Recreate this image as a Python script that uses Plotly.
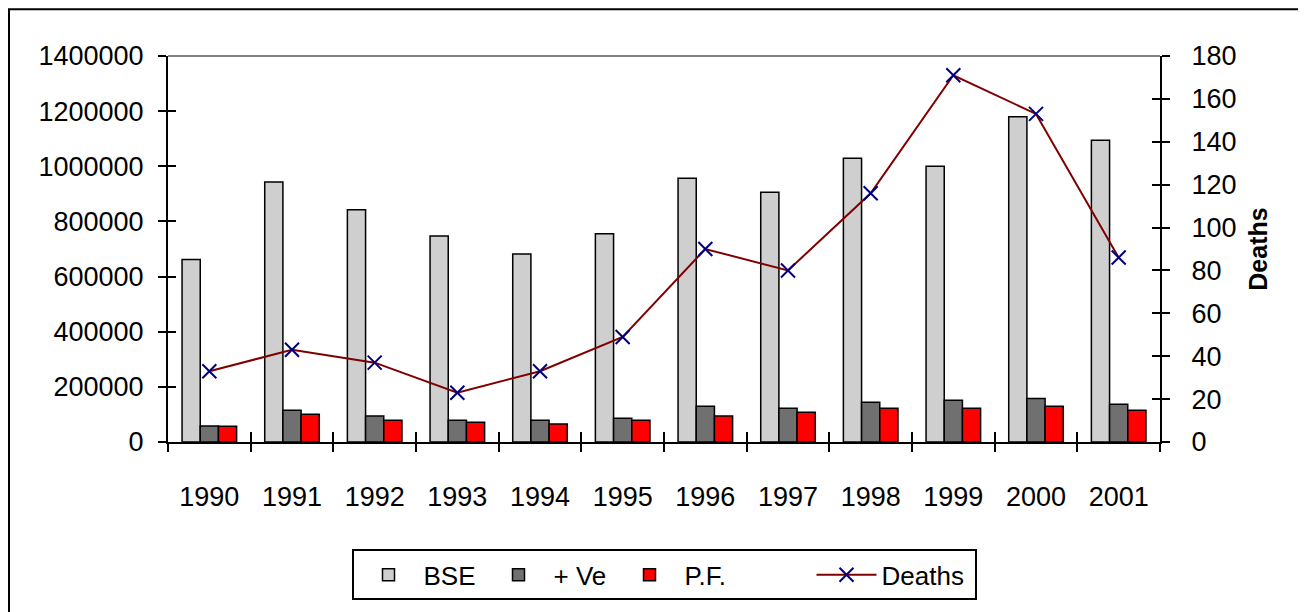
import plotly.graph_objects as go

years = ["1990", "1991", "1992", "1993", "1994", "1995",
         "1996", "1997", "1998", "1999", "2000", "2001"]
bse = [662000, 943000, 842000, 747000, 682000, 755000,
       957000, 906000, 1029000, 1000000, 1180000, 1094000]
pos_ve = [58000, 115000, 94000, 79000, 79000, 86000,
          130000, 122000, 144000, 151000, 158000, 137000]
pf = [57000, 101000, 79000, 72000, 65000, 79000,
      94000, 108000, 122000, 122000, 130000, 115000]
deaths = [33, 43, 37, 23, 33, 49, 90, 80, 116, 171, 153, 86]

left_ticks = [0, 200000, 400000, 600000, 800000, 1000000, 1200000, 1400000]
right_ticks = [0, 20, 40, 60, 80, 100, 120, 140, 160, 180]

FONT = "Liberation Sans, Arial, sans-serif"
bar_line = dict(color="black", width=1.5)

fig = go.Figure()
fig.add_trace(go.Bar(x=years, y=bse, name="BSE", legendwidth=55,
                     marker=dict(color="#cfcfcf", line=bar_line)))
fig.add_trace(go.Bar(x=years, y=pos_ve, name="+ Ve", legendwidth=56,
                     marker=dict(color="#707070", line=bar_line)))
fig.add_trace(go.Bar(x=years, y=pf, name="P.F.", legendwidth=122,
                     marker=dict(color="#ff0000", line=bar_line)))
fig.add_trace(go.Scatter(x=years, y=deaths, name="Deaths", yaxis="y2",
                         legendwidth=88, mode="lines+markers",
                         line=dict(color="#800000", width=2),
                         marker=dict(symbol="x-thin", size=14,
                                     line=dict(color="#000080", width=2))))

# invisible helpers so the overlay axes (inner half of the crossing ticks) get drawn
fig.add_trace(go.Scatter(x=list(range(len(years))), y=bse, xaxis="x2", yaxis="y3",
                         mode="markers", marker=dict(size=1, opacity=0),
                         hoverinfo="skip", showlegend=False))
fig.add_trace(go.Scatter(x=years, y=deaths, yaxis="y4",
                         mode="markers", marker=dict(size=1, opacity=0),
                         hoverinfo="skip", showlegend=False))

axis_font = dict(family=FONT, size=27, color="black")

# page body adds an 8px offset, so the figure is shrunk by that amount
fig.update_layout(
    width=1298, height=604, autosize=False,
    margin=dict(l=160, r=146, t=48, b=168),
    paper_bgcolor="white", plot_bgcolor="white",
    font=dict(family=FONT, size=26, color="black"),
    barmode="group", bargap=0.34, bargroupgap=0,
    showlegend=True,
    legend=dict(orientation="h", x=0.5, xanchor="center",
                y=-0.278, yanchor="top",
                bordercolor="black", borderwidth=2, bgcolor="white",
                font=dict(family=FONT, size=26, color="black"),
                itemwidth=60, traceorder="normal"),
    xaxis=dict(type="category", range=[-0.5, 11.5],
               showgrid=False, zeroline=False,
               showline=True, linecolor="black", linewidth=2,
               ticks="outside", ticklen=8, tickwidth=2, tickcolor="black",
               tickson="boundaries", ticklabelstandoff=30,
               tickfont=axis_font),
    xaxis2=dict(overlaying="x", anchor="y", range=[-0.5, 11.5],
                tickvals=[i - 0.5 for i in range(1, 12)],
                ticks="inside", ticklen=10, tickwidth=2, tickcolor="black",
                showticklabels=False, showgrid=False, zeroline=False,
                showline=False),
    yaxis=dict(range=[0, 1400000], tickvals=left_ticks, tickformat="d",
               showgrid=False, zeroline=False,
               showline=True, linecolor="black", linewidth=2,
               ticks="outside", ticklen=8, tickwidth=2, tickcolor="black",
               ticklabelstandoff=9, tickfont=axis_font),
    yaxis2=dict(range=[0, 180], tickvals=right_ticks, overlaying="y",
                side="right", showgrid=False, zeroline=False,
                showline=True, linecolor="black", linewidth=2,
                ticks="outside", ticklen=8, tickwidth=2, tickcolor="black",
                ticklabelstandoff=16, tickfont=axis_font,
                title=dict(text="<b>Deaths</b>", standoff=14,
                           font=dict(family=FONT, size=25, color="black"))),
    yaxis3=dict(range=[0, 1400000], tickvals=left_ticks, overlaying="y",
                anchor="x2", side="left", ticks="inside", ticklen=8,
                tickwidth=2, tickcolor="black", showticklabels=False,
                showgrid=False, zeroline=False, showline=False),
    yaxis4=dict(range=[0, 180], tickvals=right_ticks, overlaying="y",
                anchor="x", side="right", ticks="inside", ticklen=8,
                tickwidth=2, tickcolor="black", showticklabels=False,
                showgrid=False, zeroline=False, showline=False),
    shapes=[
        # grey top edge of the plot area
        dict(type="line", xref="paper", yref="paper", x0=0, x1=1, y0=1, y1=1,
             line=dict(color="#808080", width=2)),
        # chart frame
        dict(type="rect", xref="paper", yref="paper",
             x0=-0.1603, x1=1.1452, y0=-0.45, y1=1.121,
             line=dict(color="black", width=2), fillcolor="rgba(0,0,0,0)"),
    ],
)

fig.write_html("out.html")
